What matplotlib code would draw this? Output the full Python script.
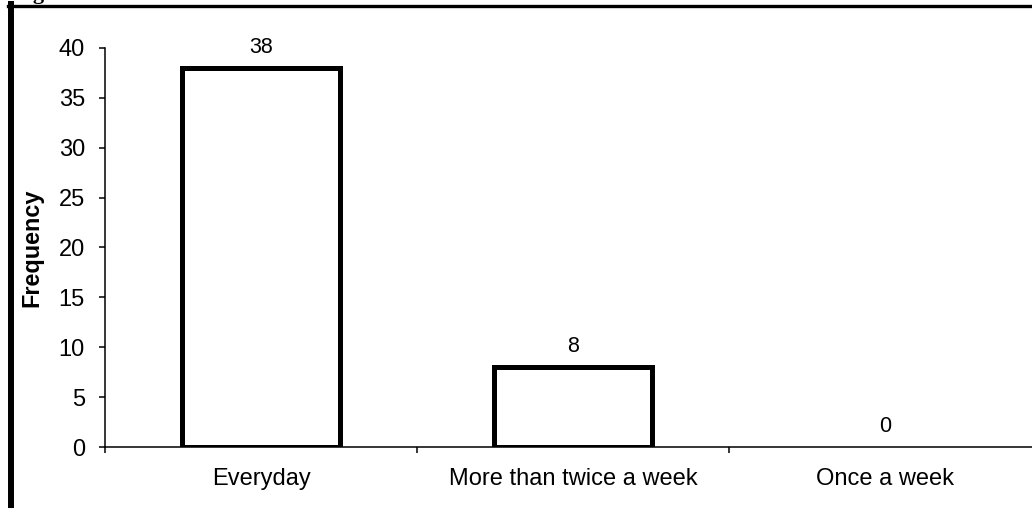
import matplotlib.pyplot as plt
from matplotlib.lines import Line2D

plt.rcParams['font.family'] = ['Liberation Sans', 'DejaVu Sans']

categories = ['Everyday', 'More than twice a week', 'Once a week']
frequency = [38, 8, 0]
yticks = [0, 5, 10, 15, 20, 25, 30, 35, 40]

W, H = 1032, 508
fig = plt.figure(figsize=(W / 100, H / 100), dpi=100)

# axes run past the right edge so the last category boundary is cut off
ax = fig.add_axes([105 / W, 61 / H, 936 / W, 399 / H])
x = list(range(len(categories)))
bars = ax.bar(x, frequency, width=0.505, color='white', edgecolor='black',
              linewidth=3.6, joinstyle='miter', zorder=3)
# an empty bar leaves no outline
for b, v in zip(bars, frequency):
    if v == 0:
        b.set_linewidth(0)

for xi, v in zip(x, frequency):
    ax.annotate(str(v), (xi, v), xytext=(0, 7.5), textcoords='offset points',
                ha='center', va='bottom', fontsize=15.5)

ax.set_xlim(-0.5, len(categories) - 0.5)
ax.set_ylim(0, 40)
ax.set_yticks(yticks)
ax.set_xticks(x)
ax.set_xticklabels(categories)
ax.set_xticks([i - 0.5 for i in range(len(categories) + 1)], minor=True)

ax.tick_params(axis='y', direction='out', length=4.5, width=1.1,
               labelsize=17, pad=10)
ax.tick_params(axis='x', which='major', length=0, labelsize=17, pad=15)
ax.tick_params(axis='x', which='minor', direction='out', length=4.5, width=1.1)

for side in ['top', 'right']:
    ax.spines[side].set_visible(False)
for side in ['left', 'bottom']:
    ax.spines[side].set_linewidth(1.1)

ax.set_ylabel('Frequency', fontsize=16.8, fontweight='bold', labelpad=11)

# page frame and clipped caption above the chart
fig.add_artist(Line2D([11 / W, 11 / W], [0, 1 - 4 / H], color='black',
                      linewidth=4.3, transform=fig.transFigure))
fig.add_artist(Line2D([8 / W, 1], [1 - 5.5 / H, 1 - 5.5 / H], color='black',
                      linewidth=2.4, transform=fig.transFigure))
fig.text(14 / W, 1 + 1 / H, 'Figure', fontsize=16, fontweight='bold',
         family='Liberation Serif', ha='left', va='baseline')

fig.savefig('out.png', dpi=100)
